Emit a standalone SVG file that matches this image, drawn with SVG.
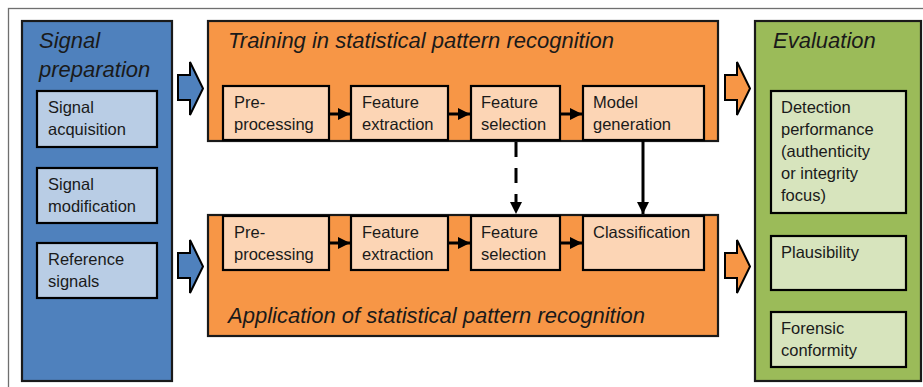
<svg xmlns="http://www.w3.org/2000/svg" width="923" height="387" viewBox="0 0 923 387">
<defs>
<style>
.frame{fill:none;stroke:#6f6f6f;stroke-width:1.3}
.outer{stroke:#1a1a1a;stroke-width:2.2}
.blue{fill:#4f81bd}
.orange{fill:#f79646}
.green{fill:#9bbb59}
.inner{stroke:#000;stroke-width:2.2}
.lblue{fill:#b9cde5}
.lorange{fill:#fcd5b5}
.lgreen{fill:#d7e4bd}
.t{font-family:"Liberation Sans",Arial,sans-serif;font-size:16.5px;fill:#1a1a1a}
.h{font-family:"Liberation Sans",Arial,sans-serif;font-size:22px;font-style:italic;fill:#1a1a1a}
.con{stroke:#000;stroke-width:3;fill:none}
.blk{stroke:#000;stroke-width:2;stroke-linejoin:miter}
</style>
<marker id="ah" viewBox="0 0 10 10" refX="10" refY="5" markerWidth="4" markerHeight="4" markerUnits="strokeWidth" orient="auto">
<path d="M0,0 L10,5 L0,10 Z" fill="#000"/>
</marker>
<path id="barrow" d="M0,13 L12,13 L12,0 L25,26.5 L12,53 L12,38 L0,38 Z"/>
</defs>
<rect class="frame" x="8.5" y="8.5" width="930" height="400"/>

<g id="signal-preparation">
<rect class="outer blue" x="22" y="21" width="150" height="360"/>
<text class="h" x="39" y="48">Signal</text>
<text class="h" x="39" y="77">preparation</text>
</g>
<g id="signal-acquisition">
<rect class="inner lblue" x="37" y="91" width="120" height="56"/>
<text class="t" x="48" y="113">Signal</text>
<text class="t" x="48" y="135">acquisition</text>
</g>
<g id="signal-modification">
<rect class="inner lblue" x="37" y="168" width="120" height="55"/>
<text class="t" x="48" y="190">Signal</text>
<text class="t" x="48" y="212">modification</text>
</g>
<g id="reference-signals">
<rect class="inner lblue" x="37" y="243" width="120" height="55"/>
<text class="t" x="48" y="265">Reference</text>
<text class="t" x="48" y="287">signals</text>
</g>

<g id="training">
<rect class="outer orange" x="208" y="21" width="510" height="120"/>
<text class="h" x="228" y="48">Training in statistical pattern recognition</text>
</g>
<g id="train-preprocessing">
<rect class="inner lorange" x="223" y="86" width="106" height="54"/>
<text class="t" x="234" y="108">Pre-</text>
<text class="t" x="234" y="130">processing</text>
</g>
<g id="train-feature-extraction">
<rect class="inner lorange" x="351" y="86" width="97" height="54"/>
<text class="t" x="362" y="108">Feature</text>
<text class="t" x="362" y="130">extraction</text>
</g>
<g id="train-feature-selection">
<rect class="inner lorange" x="471" y="86" width="89" height="54"/>
<text class="t" x="481" y="108">Feature</text>
<text class="t" x="481" y="130">selection</text>
</g>
<g id="model-generation">
<rect class="inner lorange" x="583" y="86" width="121" height="54"/>
<text class="t" x="593" y="108">Model</text>
<text class="t" x="593" y="130">generation</text>
</g>

<g id="application">
<rect class="outer orange" x="208" y="215" width="510" height="121"/>
<text class="h" x="228" y="323">Application of statistical pattern recognition</text>
</g>
<g id="app-preprocessing">
<rect class="inner lorange" x="223" y="216" width="106" height="54"/>
<text class="t" x="234" y="238">Pre-</text>
<text class="t" x="234" y="260">processing</text>
</g>
<g id="app-feature-extraction">
<rect class="inner lorange" x="351" y="216" width="97" height="54"/>
<text class="t" x="362" y="238">Feature</text>
<text class="t" x="362" y="260">extraction</text>
</g>
<g id="app-feature-selection">
<rect class="inner lorange" x="471" y="216" width="89" height="54"/>
<text class="t" x="481" y="238">Feature</text>
<text class="t" x="481" y="260">selection</text>
</g>
<g id="classification">
<rect class="inner lorange" x="583" y="216" width="121" height="54"/>
<text class="t" x="593" y="238">Classification</text>
</g>

<g id="evaluation">
<rect class="outer green" x="755" y="21" width="166" height="360"/>
<text class="h" x="773" y="48">Evaluation</text>
</g>
<g id="detection-performance">
<rect class="inner lgreen" x="771" y="91" width="135" height="122"/>
<text class="t" x="781" y="113">Detection</text>
<text class="t" x="781" y="135">performance</text>
<text class="t" x="781" y="157">(authenticity</text>
<text class="t" x="781" y="179">or integrity</text>
<text class="t" x="781" y="201">focus)</text>
</g>
<g id="plausibility">
<rect class="inner lgreen" x="771" y="236" width="135" height="54"/>
<text class="t" x="781" y="258">Plausibility</text>
</g>
<g id="forensic-conformity">
<rect class="inner lgreen" x="771" y="312" width="135" height="55"/>
<text class="t" x="781" y="334">Forensic</text>
<text class="t" x="781" y="356">conformity</text>
</g>

<g id="connectors">
<use href="#barrow" x="178" y="62" class="blk blue"/>
<use href="#barrow" x="178" y="240" class="blk blue"/>
<use href="#barrow" x="725" y="62" class="blk orange"/>
<use href="#barrow" x="725" y="240" class="blk orange"/>
<line class="con" x1="330" y1="114" x2="350" y2="114" marker-end="url(#ah)"/>
<line class="con" x1="449" y1="114" x2="470" y2="114" marker-end="url(#ah)"/>
<line class="con" x1="561" y1="114" x2="582" y2="114" marker-end="url(#ah)"/>
<line class="con" x1="330" y1="243" x2="350" y2="243" marker-end="url(#ah)"/>
<line class="con" x1="449" y1="243" x2="470" y2="243" marker-end="url(#ah)"/>
<line class="con" x1="561" y1="243" x2="582" y2="243" marker-end="url(#ah)"/>
<line class="con" x1="516" y1="142" x2="516" y2="214" stroke-dasharray="15 11" marker-end="url(#ah)"/>
<line class="con" x1="643" y1="141" x2="643" y2="214" marker-end="url(#ah)"/>
</g>
</svg>
